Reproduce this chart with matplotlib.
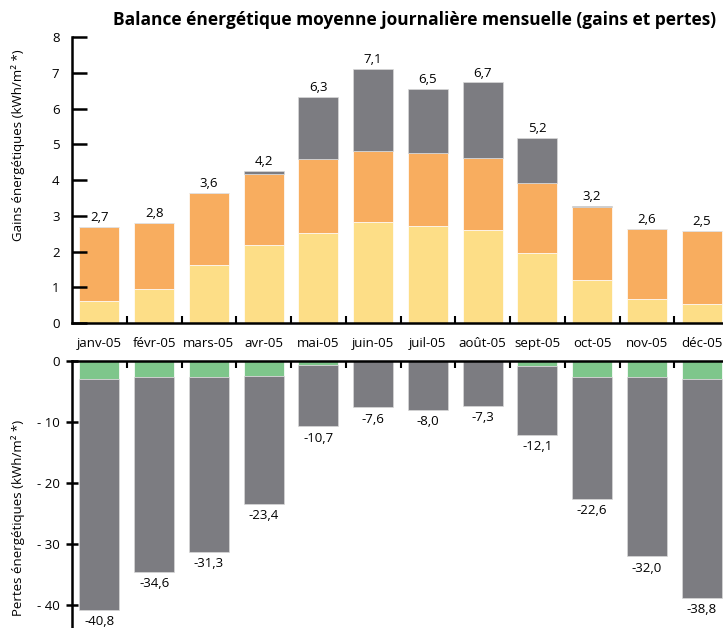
import numpy as np
import matplotlib
matplotlib.use("Agg")
from matplotlib import pyplot as plt

plt.rcParams['font.family'] = ['Open Sans', 'DejaVu Sans']

mois = ['janv-05', 'févr-05', 'mars-05', 'avr-05', 'mai-05', 'juin-05',
        'juil-05', 'août-05', 'sept-05', 'oct-05', 'nov-05', 'déc-05']

# gains (kWh/m²) : niveaux cumulés
niveau_jaune = [0.62, 0.95, 1.62, 2.18, 2.53, 2.82, 2.72, 2.59, 1.95, 1.20, 0.68, 0.53]
niveau_orange = [2.68, 2.79, 3.63, 4.17, 4.58, 4.80, 4.76, 4.62, 3.92, 3.24, 2.64, 2.57]
niveau_gris = [2.68, 2.79, 3.63, 4.25, 6.33, 7.10, 6.54, 6.73, 5.18, 3.28, 2.64, 2.57]
gains_total = [2.7, 2.8, 3.6, 4.2, 6.3, 7.1, 6.5, 6.7, 5.2, 3.2, 2.6, 2.5]

# pertes (kWh/m²)
pertes_vert = [-3.0, -2.7, -2.7, -2.5, -0.7, 0.0, 0.0, 0.0, -0.9, -2.6, -2.7, -3.0]
pertes_total = [-40.8, -34.6, -31.3, -23.4, -10.7, -7.6, -8.0, -7.3, -12.1, -22.6, -32.0, -38.8]

c_jaune = '#FDDE87'
c_orange = '#F8AD5F'
c_gris = '#7C7C81'
c_vert = '#7EC68B'

x = np.arange(len(mois))
w = 0.73

fig = plt.figure(figsize=(7.23, 6.28), dpi=100)
W, H = 723, 628
left = 72 / W
width = 657 / W
ax1 = fig.add_axes([left, 1 - 323 / H, width, (323 - 37) / H])
ax2 = fig.add_axes([left, 0, width, 1 - 361 / H])

# --- gains ---
jaune = np.array(niveau_jaune)
orange = np.array(niveau_orange)
gris = np.array(niveau_gris)
ax1.bar(x, jaune, w, color=c_jaune, edgecolor='white', linewidth=0.5)
ax1.bar(x, orange - jaune, w, bottom=jaune, color=c_orange, edgecolor='white', linewidth=0.5)
ax1.bar(x, gris - orange, w, bottom=orange, color=c_gris, edgecolor='#d8d8d8', linewidth=0.5)
for i, v in enumerate(gains_total):
    ax1.annotate(f"{v:.1f}".replace('.', ','), (x[i], gris[i]), xytext=(0, 2),
                 textcoords='offset points', ha='center', va='bottom', fontsize=9.5)

ax1.set_xlim(-0.5, len(mois) - 0.5)
ax1.set_ylim(0, 8)
ax1.set_yticks(range(0, 9))
ax1.set_xticks(x)
ax1.set_xticklabels(mois)
ax1.set_xticks(x[:-1] + 0.5, minor=True)
ax1.tick_params(axis='x', which='major', length=0, pad=10, labelsize=9.5)
ax1.tick_params(axis='x', which='minor', direction='in', length=5, width=1.5)
ax1.tick_params(axis='y', direction='in', length=11, width=1.8, pad=9, labelsize=9.5)
for s in ['top', 'right']:
    ax1.spines[s].set_visible(False)
for s in ['left', 'bottom']:
    ax1.spines[s].set_linewidth(1.8)

# --- pertes ---
vert = np.array(pertes_vert)
tot = np.array(pertes_total)
ax2.bar(x, vert, w, color=c_vert, edgecolor='white', linewidth=0.5)
ax2.bar(x, tot - vert, w, bottom=vert, color=c_gris, edgecolor='#d8d8d8', linewidth=0.5)
for i, v in enumerate(pertes_total):
    ax2.annotate(f"{v:.1f}".replace('.', ','), (x[i], v), xytext=(0, -4),
                 textcoords='offset points', ha='center', va='top', fontsize=9.5)

ax2.set_xlim(-0.5, len(mois) - 0.5)
ax2.set_ylim(-43.8, 0)
ax2.set_yticks([0, -10, -20, -30, -40])
ax2.set_yticklabels(['0', '- 10', '- 20', '- 30', '- 40'])
ax2.set_xticks([])
ax2.set_xticks(x[:-1] + 0.5, minor=True)
ax2.xaxis.set_ticks_position('top')
ax2.tick_params(axis='x', which='minor', direction='in', length=5, width=1.5, top=True, bottom=False)
ax2.tick_params(axis='y', direction='inout', length=9, width=1.8, pad=4, labelsize=9.5)
for s in ['bottom', 'right']:
    ax2.spines[s].set_visible(False)
for s in ['left', 'top']:
    ax2.spines[s].set_linewidth(1.8)

fig.text(415 / W, 1 - 20 / H, "Balance énergétique moyenne journalière mensuelle (gains et pertes)",
         ha='center', va='center', fontsize=12.5, fontweight='bold')
fig.text(18 / W, 1 - 145 / H, "Gains énergétiques (kWh/m² *)", rotation=90,
         ha='center', va='center', fontsize=9.5)
fig.text(18 / W, 1 - 518 / H, "Pertes énergétiques (kWh/m² *)", rotation=90,
         ha='center', va='center', fontsize=9.5)

fig.savefig('out.png', dpi=100)
